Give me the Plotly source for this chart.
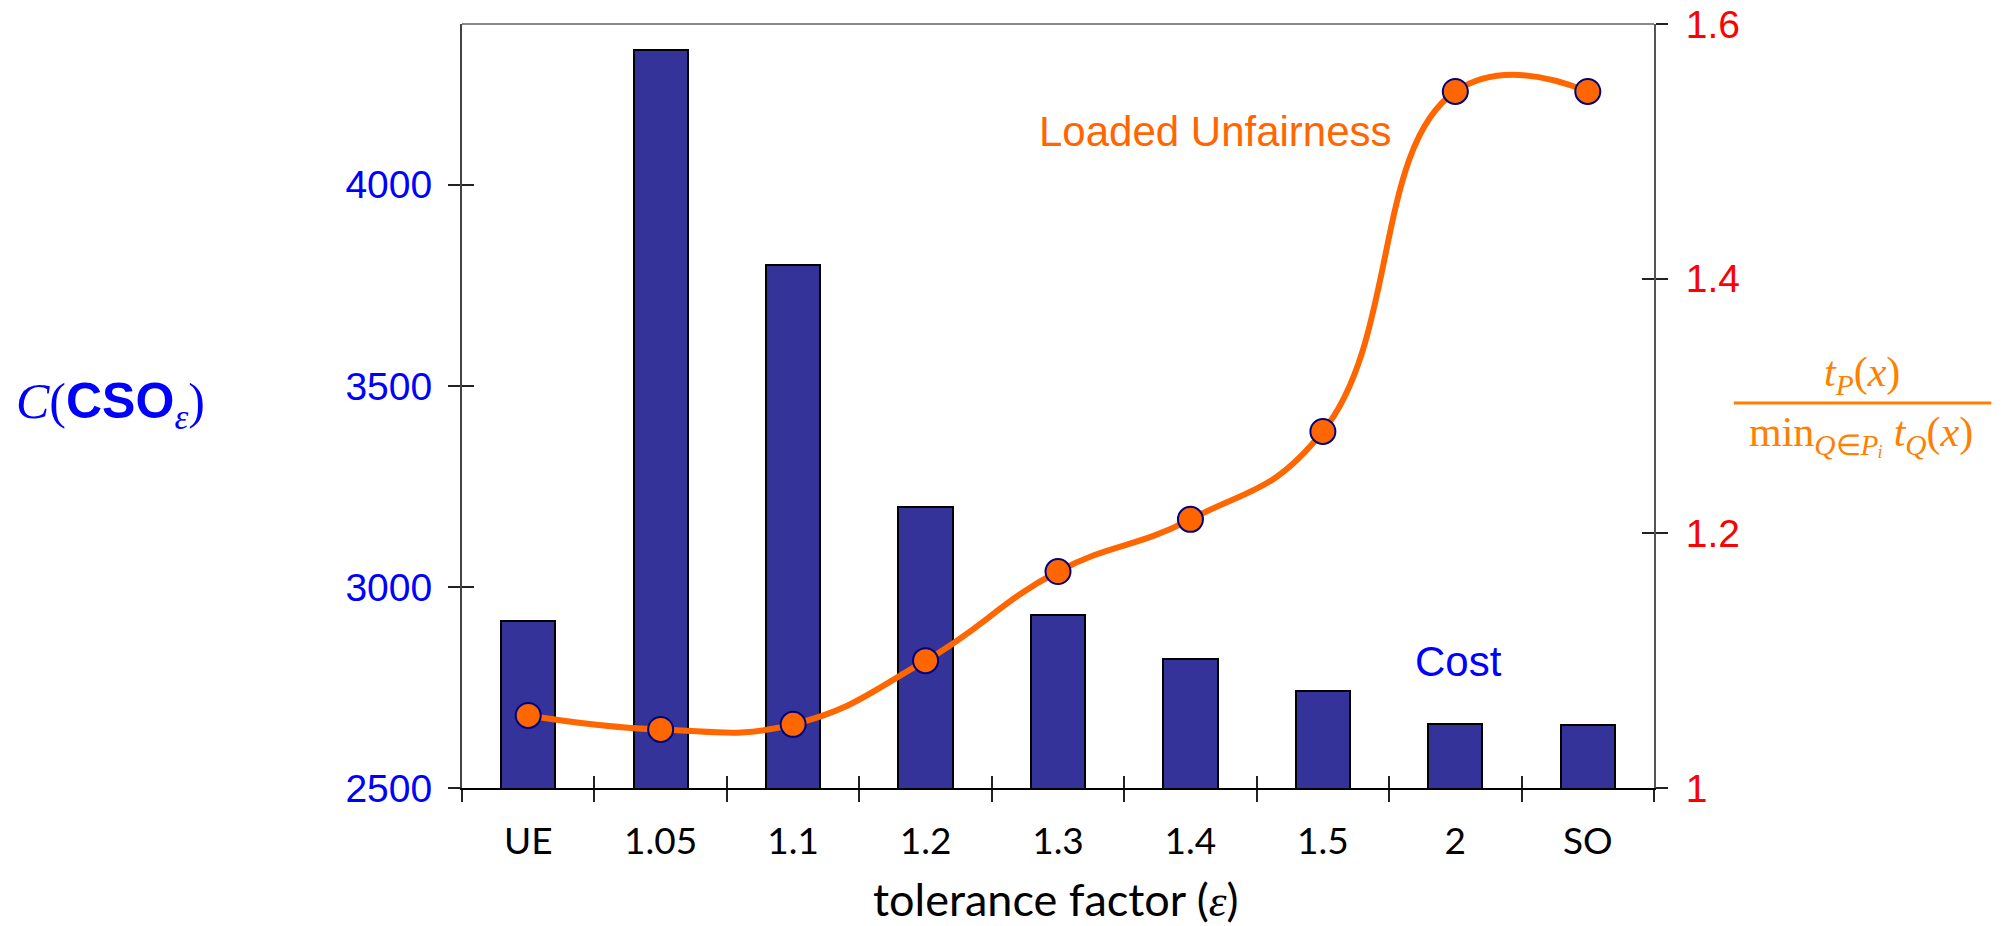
import plotly.graph_objects as go

# Tolerance factor categories
categories = ["UE", "1.05", "1.1", "1.2", "1.3", "1.4", "1.5", "2", "SO"]
# Cost C(CSO_eps) per category (left axis)
cost = [2915, 4335, 3800, 3200, 2930, 2820, 2740, 2660, 2657]
# Loaded unfairness per category (right axis)
unfairness = [1.057, 1.046, 1.050, 1.100, 1.170, 1.211, 1.280, 1.547, 1.547]

cost_ticks = [2500, 3000, 3500, 4000]
unf_ticks = [1.0, 1.2, 1.4, 1.6]
unf_tick_text = ["1", "1.2", "1.4", "1.6"]

BLUE = "#0000ff"
RED = "#ff0000"
ORANGE = "#ff6600"
FRAC_ORANGE = "#ff7f00"
BAR_FILL = "#333399"
SERIF = "Liberation Serif"
SANS = "Liberation Sans"

n = len(categories)
boundaries = [i - 0.5 for i in range(n + 1)]

fig = go.Figure()

fig.add_trace(go.Bar(
    x=categories, y=cost, width=0.41,
    marker=dict(color=BAR_FILL, line=dict(color="black", width=2)),
    xaxis="x", yaxis="y", showlegend=False,
))

fig.add_trace(go.Scatter(
    x=categories, y=unfairness, mode="lines+markers",
    line=dict(color=ORANGE, width=6, shape="spline", smoothing=1.3),
    marker=dict(size=25, color=ORANGE, line=dict(color="#000080", width=2)),
    xaxis="x", yaxis="y2", showlegend=False,
))

# empty traces so the overlay axes (inner tick halves) get drawn
fig.add_trace(go.Scatter(x=[], y=[], xaxis="x2", yaxis="y", showlegend=False))
fig.add_trace(go.Scatter(x=[], y=[], xaxis="x", yaxis="y3", showlegend=False))
fig.add_trace(go.Scatter(x=[], y=[], xaxis="x", yaxis="y4", showlegend=False))

fig.update_layout(
    width=2005, height=926,
    margin=dict(l=462, r=351, t=24, b=138, autoexpand=False),
    plot_bgcolor="white", paper_bgcolor="white",
    bargap=0,
    xaxis=dict(
        type="category", categoryarray=categories, range=[-0.5, n - 0.5],
        tickson="boundaries", ticks="outside", ticklen=12, tickwidth=1.5,
        tickcolor="#222", showline=True, linecolor="black", linewidth=2,
        showgrid=False, zeroline=False, automargin=False,
        tickfont=dict(family="Lato", size=37, color="black"),
        ticklabelstandoff=20,
    ),
    xaxis2=dict(
        overlaying="x", anchor="y", side="bottom", range=[-0.5, n - 0.5],
        tickmode="array", tickvals=boundaries, ticks="inside", ticklen=12,
        tickwidth=1.5, tickcolor="#222", showticklabels=False,
        showline=False, showgrid=False, zeroline=False, automargin=False,
    ),
    yaxis=dict(
        range=[2500, 4400], tickmode="array", tickvals=cost_ticks,
        ticks="outside", ticklen=12, tickwidth=1.5, tickcolor="#222",
        showline=True, linecolor="#444", linewidth=2,
        showgrid=False, zeroline=False, automargin=False,
        tickfont=dict(family=SANS, size=39, color=BLUE),
        ticklabelstandoff=8,
    ),
    yaxis3=dict(
        overlaying="y", anchor="x", side="left", range=[2500, 4400],
        tickmode="array", tickvals=cost_ticks, ticks="inside", ticklen=12,
        tickwidth=1.5, tickcolor="#222", showticklabels=False,
        showline=False, showgrid=False, zeroline=False, automargin=False,
    ),
    yaxis2=dict(
        overlaying="y", anchor="x", side="right", range=[1.0, 1.6],
        tickmode="array", tickvals=unf_ticks, ticktext=unf_tick_text,
        ticks="outside", ticklen=12, tickwidth=1.5, tickcolor="#222",
        showline=True, linecolor="#555", linewidth=2,
        showgrid=False, zeroline=False, automargin=False,
        tickfont=dict(family=SANS, size=39, color=RED),
        ticklabelstandoff=10,
    ),
    yaxis4=dict(
        overlaying="y", anchor="x", side="right", range=[1.0, 1.6],
        tickmode="array", tickvals=unf_ticks, ticks="inside", ticklen=12,
        tickwidth=1.5, tickcolor="#222", showticklabels=False,
        showline=False, showgrid=False, zeroline=False, automargin=False,
    ),
)

# top frame line
fig.add_shape(type="line", xref="paper", yref="paper", x0=0, x1=1, y0=1, y1=1,
              line=dict(color="#888", width=2))

# fraction bar of the right-axis label
fig.add_shape(type="line", xref="paper", yref="paper", x0=1.067, x1=1.283,
              y0=0.504, y1=0.504, line=dict(color=FRAC_ORANGE, width=3))

annotations = [
    dict(text="Loaded Unfairness", x=0.632, y=0.859,
         font=dict(family=SANS, size=42, color=ORANGE)),
    dict(text="Cost", x=0.836, y=0.165,
         font=dict(family=SANS, size=42, color=BLUE)),
    dict(text="tolerance factor (<i><span style='font-family:Liberation Serif'>ε</span></i>)",
         x=0.498, y=-0.145, font=dict(family="Lato", size=45, color="black")),
    dict(text=("<span style='font-family:Liberation Serif'><i>C</i>(</span>"
               "<b>CSO</b><sub><i><span style='font-family:Liberation Serif'>ε</span></i></sub>"
               "<span style='font-family:Liberation Serif'>)</span>"),
         x=-0.2945, y=0.501, font=dict(family=SANS, size=50, color=BLUE)),
    dict(text="<i>t</i><sub><i>P</i></sub>(<i>x</i>)", x=1.1745, y=0.54,
         font=dict(family=SERIF, size=42, color=FRAC_ORANGE)),
    dict(text="min<sub><i>Q</i>∈<i>P</i><i>ᵢ</i></sub> <i>t</i><sub><i>Q</i></sub>(<i>x</i>)",
         x=1.174, y=0.462, font=dict(family=SERIF, size=42, color=FRAC_ORANGE)),
]
for a in annotations:
    fig.add_annotation(xref="paper", yref="paper", showarrow=False,
                       xanchor="center", yanchor="middle", **a)

fig.write_html("out.html")
